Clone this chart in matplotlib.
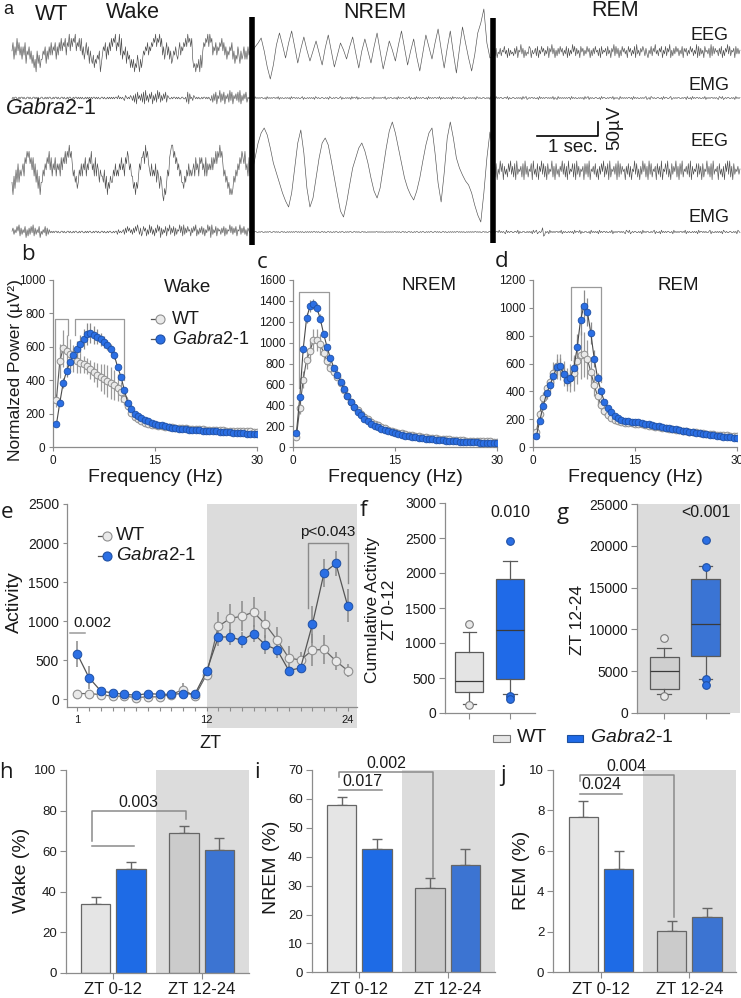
import numpy as np
import matplotlib
matplotlib.use("Agg")
import matplotlib.pyplot as plt
from matplotlib.patches import Rectangle
from matplotlib.transforms import blended_transform_factory

# ============================ DATA ============================
# --- panel a: example traces (levels 0-9) ---
wt_eeg_wake = ("5736485746" "3647254635" "2413052413" "3546253647" "4657364758" "5768476958"
               "6879576858" "4635746253" "2413243502" "4657364758" "6879576948" "3546253413"
               "1302142031" "3546574657" "6879687968" "4635746352" "3546435746" "5768697868"
               "3120213041" "5768796978" "4657465768" "5746354657" "3524364253" "4635364546")
wt_eeg_nrem = [0, 6, 10, 15, 2, -14, -26, -12, 8, 20, 8, -5, 10, 22, 6, -10, 4, 16, 3, -8,
               2, 12, 0, -12, 5, 18, 2, -14, -2, 10, 3, -6, 6, 16, 0, -15, 2, 14, 2, -10,
               6, 20, 2, -16, -2, 12, 3, -8, 8, 22, 5, -12, 2, 14, -4, -18, 0, 18, 6, -6,
               10, 24, 4, -15, 5, 22, 0, -20, 4, 26, 10, -5, -18, -2, 20, 30, 44, 10, -5, -2]
wt_eeg_rem = ("4637254736" "5846273645" "3748265947" "2635487264" "5738264857" "3648275947"
              "2637485736" "4827364958" "3746285736" "4857263748" "5637284657" "3846275938"
              "4726385746" "2857364829" "4637586374" "2648375946" "3758264837" "5926374857"
              "3648275736" "4857364928" "3746285647" "2938475637" "4826375948" "3657284746")
wt_emg_wake = ("4545544545" "5454455454" "4554545445" "5445454554" "4545545445" "5454454554"
               "4545545454" "5445454545" "4554545445" "5454454545" "4545546454" "5436545465"
               "3627184637" "2819362748" "1637294826" "3748265445" "4554545445" "5445281745"
               "3654545445" "4554545436" "2738164927" "3816472938" "1647382916" "3748254545")
wt_emg_nrem = ("4536454545" "5445364545" "4554546354" "5445454536" "4554545445" "6354454545"
               "4536545445" "5445453654" "4545544563" "5445454536" "4554635445" "5445454554"
               "3645454545" "5463454554" "4545364545" "5445456354" "4536454545" "5445364545"
               "4554546354" "5445454536" "4554545445" "6354454545" "4536545445" "5445453654")
wt_emg_rem = ("5436454554" "4554635445" "5445454536" "4563454554" "5445364545" "4554545463"
              "5436454545" "4545536454" "5445454536" "4563545445" "5445364554" "4545546354"
              "5436454545" "4554536454" "5445454563" "4536545445" "5445364554" "4563454545"
              "5445455364" "4536454554" "5445463545" "4554545436" "5463454554" "4545364545")
g2_eeg_wake = ("3142536354" "5647687867" "5746352413" "3546576857" "4657465647" "5768687978"
               "6453423546" "4657465768" "5647465354" "4352413243" "3546454657" "5647687564"
               "4231324657" "7869786546" "4546354243" "1021354789" "9786756453" "3243546454"
               "5647564767" "5647465657" "5768687978" "6453423121" "2435465768" "7685647454")
g2_eeg_nrem = [0, 15, 30, 40, 45, 38, 25, 10, 0, -10, -20, -28, -34, -20, 5, 30, 43, 20, -15, -34,
               -25, -5, 15, 30, 35, 28, 12, -5, -22, -38, -44, -30, -12, 5, 15, 25, 30, 22, 10, -5,
               -18, -25, -15, 5, 25, 42, 51, 40, 25, 10, -5, -15, -22, -27, -18, -5, 12, 28, 40, 45,
               20, -10, -29, 0, 35, 51, 35, 15, 5, -2, -8, -12, -20, -32, -42, -49, -20, 15, 41, 20]
g2_eeg_rem = ("4738264958" "2746385947" "3829465738" "2947365829" "4638275948" "3728465937"
              "2846375948" "3729465838" "2947365728" "4839265748" "3627485937" "4829365748"
              "2938475627" "4837265948" "3627495837" "2948365728" "4739265849" "3628475937"
              "2849365748" "3927465838" "4728365947" "3829465728" "4637285949" "3728465746")
g2_emg_wake = ("5736485927" "3648162738" "4927364815" "3648273645" "4545545445" "5454455454"
               "4545544545" "5445454554" "4545545445" "5454454554" "4545536454" "5637485746"
               "3748596372" "4857263948" "3627495817" "3648275937" "4827365948" "2937485627"
               "4859263748" "3726495819" "3648275637" "4827365948" "3748265937" "4836275445")
g2_emg_nrem = ("4545544545" "5445454554" "4554545445" "5454454545" "4545545454" "5445454545"
               "4554545445" "5454455454" "4545544545" "5445454554" "4554545445" "5454454545"
               "4545545454" "5445454545" "4554545445" "5454455454" "4545544545" "5445454554"
               "4554545445" "5454454545" "4545545454" "5445454545" "4554545445" "5454455454")
g2_emg_rem = ("4545546454" "5436454554" "4554635445" "5445454536" "4563454581" "2545364545"
              "4554546354" "5445454536" "4554635445" "5445364545" "4536454554" "5445463545"
              "4554545436" "5463454554" "4545364545" "5445456354" "4536454545" "5445364545"
              "4554546354" "5445454536" "4554545445" "6354454545" "4536545445" "5445453654")

# --- panels b-d: power spectra ---
freq = [0.5, 1.0, 1.5, 2.0, 2.5, 3.0, 3.5, 4.0, 4.5, 5.0, 5.5, 6.0, 6.5, 7.0, 7.5, 8.0, 8.5, 9.0, 9.5, 10.0,
        10.5, 11.0, 11.5, 12.0, 12.5, 13.0, 13.5, 14.0, 14.5, 15.0, 15.5, 16.0, 16.5, 17.0, 17.5, 18.0, 18.5,
        19.0, 19.5, 20.0, 20.5, 21.0, 21.5, 22.0, 22.5, 23.0, 23.5, 24.0, 24.5, 25.0, 25.5, 26.0, 26.5, 27.0,
        27.5, 28.0, 28.5, 29.0, 29.5, 30.0]
wake_wt = [280, 515, 590, 572, 555, 530, 515, 505, 495, 485, 465, 450, 432, 418, 405, 395, 385, 372, 355, 330,
           290, 245, 205, 180, 165, 153, 145, 139, 134, 130, 127, 124, 122, 120, 118, 116, 114, 112, 111, 109,
           108, 107, 106, 105, 104, 103, 102, 101, 100, 99, 98, 97, 96, 95, 95, 94, 93, 93, 92, 92]
wake_wt_err = [40, 100, 110, 100, 90, 80, 70, 60, 50, 50, 55, 60, 70, 80, 90, 95, 95, 90, 80, 60,
               40, 25, 15, 12, 10, 8, 7, 6, 6, 5, 4, 4, 4, 4, 4, 4, 4, 4, 4, 4,
               4, 4, 4, 4, 4, 4, 4, 4, 4, 4, 4, 4, 4, 4, 4, 4, 4, 4, 4, 4]
wake_g2 = [135, 265, 385, 455, 510, 550, 585, 618, 645, 675, 680, 672, 660, 645, 628, 608, 585, 550, 480, 420,
           340, 265, 225, 200, 184, 172, 162, 154, 146, 140, 134, 129, 124, 120, 116, 113, 110, 108, 106, 104,
           102, 101, 99, 98, 96, 95, 94, 93, 92, 91, 89, 88, 86, 85, 83, 81, 80, 78, 77, 76]
wake_g2_err = [10, 20, 30, 35, 40, 45, 50, 55, 60, 65, 60, 55, 45, 40, 35, 30, 30, 25, 20, 15,
               12, 10, 8, 7, 6, 5, 5, 5, 5, 5, 4, 4, 4, 4, 4, 4, 4, 4, 4, 4,
               4, 4, 4, 4, 4, 4, 4, 4, 4, 4, 4, 4, 4, 4, 4, 4, 4, 4, 4, 4]
nrem_wt = [100, 375, 645, 835, 920, 1025, 1025, 985, 905, 825, 760, 720, 670, 610, 545, 485, 430, 385, 350, 318,
           290, 265, 243, 224, 207, 192, 178, 166, 155, 146, 138, 130, 123, 117, 111, 106, 101, 97, 93, 89,
           86, 83, 80, 77, 75, 72, 70, 68, 66, 64, 62, 61, 59, 58, 56, 55, 54, 53, 52, 51]
nrem_wt_err = [20, 60, 80, 90, 100, 110, 110, 100, 80, 60, 40, 30, 25, 20, 15, 12, 10, 10, 8, 8,
               7, 7, 6, 6, 6, 5, 5, 5, 5, 5, 5, 4, 4, 4, 4, 4, 4, 4, 4, 4,
               3, 3, 3, 3, 3, 3, 3, 3, 3, 3, 3, 3, 3, 3, 3, 3, 3, 3, 3, 3]
nrem_g2 = [135, 480, 940, 1235, 1350, 1370, 1335, 1230, 1085, 960, 850, 760, 690, 625, 555, 490, 430, 380, 340, 305,
           272, 245, 222, 203, 187, 173, 161, 150, 140, 132, 124, 117, 110, 104, 98, 93, 88, 84, 80, 76,
           72, 69, 66, 63, 60, 58, 56, 54, 52, 50, 48, 47, 45, 44, 43, 42, 41, 40, 39, 38]
nrem_g2_err = [10, 30, 40, 50, 55, 50, 45, 40, 30, 25, 20, 15, 12, 10, 8, 8, 6, 6, 5, 5,
               4, 4, 4, 4, 4, 4, 4, 4, 4, 4, 3, 3, 3, 3, 3, 3, 3, 3, 3, 3,
               3, 3, 3, 3, 3, 3, 3, 3, 3, 3, 3, 3, 3, 3, 3, 3, 3, 3, 3, 3]
rem_wt = [110, 240, 355, 425, 470, 530, 580, 575, 525, 485, 495, 530, 615, 660, 665, 630, 540, 445, 365, 305,
          262, 232, 210, 195, 185, 178, 174, 172, 170, 168, 165, 162, 158, 154, 150, 146, 142, 138, 134, 130,
          127, 124, 120, 117, 114, 111, 108, 105, 102, 99, 96, 94, 91, 89, 87, 85, 83, 81, 80, 79]
rem_wt_err = [20, 30, 40, 50, 60, 80, 90, 90, 90, 80, 100, 130, 160, 170, 160, 140, 110, 80, 60, 40,
              30, 20, 15, 12, 10, 10, 8, 8, 8, 8, 5, 5, 5, 5, 5, 5, 5, 5, 5, 5,
              5, 5, 5, 5, 5, 5, 5, 5, 5, 5, 5, 5, 5, 5, 5, 5, 5, 5, 5, 5]
rem_g2 = [80, 190, 295, 385, 445, 510, 575, 580, 525, 485, 495, 570, 715, 915, 1015, 970, 820, 635, 495, 400,
          325, 280, 248, 223, 206, 195, 188, 185, 183, 182, 178, 173, 168, 163, 158, 152, 148, 143, 139, 135,
          131, 127, 122, 118, 114, 110, 106, 102, 98, 95, 91, 88, 84, 81, 78, 75, 72, 70, 67, 65]
rem_g2_err = [10, 20, 30, 40, 50, 60, 60, 60, 50, 50, 60, 80, 100, 110, 115, 100, 80, 60, 40, 30,
              20, 15, 12, 10, 8, 8, 6, 6, 6, 6, 5, 5, 5, 5, 5, 5, 5, 5, 5, 5,
              5, 5, 5, 5, 5, 5, 5, 5, 5, 5, 5, 5, 5, 5, 5, 5, 5, 5, 5, 5]
# significance brackets (freq left, freq right, top, left-leg end, right-leg end)
wake_brackets = [(0.3, 2.2, 766, 269, 671), (3.2, 10.4, 766, 671, 401)]
nrem_brackets = [(0.88, 5.3, 1485, 565, 1025)]
rem_brackets = [(5.6, 10.0, 1149, 626, 470)]

# --- panel e: hourly activity ---
zt = [1, 2, 3, 4, 5, 6, 7, 8, 9, 10, 11, 12, 13, 14, 15, 16, 17, 18, 19, 20, 21, 22, 23, 24]
act_wt = [72, 72, 59, 38, 38, 21, 30, 30, 59, 123, 38, 316, 933, 1034, 1063, 1114, 958, 759, 527, 502,
          629, 637, 490, 367]
act_wt_err = [20, 20, 15, 15, 15, 15, 15, 15, 20, 80, 20, 60, 190, 190, 195, 192, 170, 160, 150, 100,
              210, 180, 110, 80]
act_g2 = [578, 275, 105, 80, 63, 51, 72, 63, 63, 72, 63, 358, 797, 797, 755, 839, 696, 633, 367, 401,
          958, 1620, 1738, 1199]
act_g2_err = [165, 150, 30, 20, 15, 15, 15, 15, 15, 15, 15, 60, 115, 100, 100, 110, 120, 100, 60, 60,
              235, 180, 160, 213]

# --- panels f, g: cumulative activity box plots [whisker lo, Q1, median, Q3, whisker hi] ---
f_wt_box = [133, 300, 451, 866, 1151]
f_wt_out = [109, 1276]
f_g2_box = [271, 486, 1180, 1919, 2176]
f_g2_out = [247, 204, 2461]
g_wt_box = [2280, 2878, 5000, 6679, 7760]
g_wt_out = [2040, 8960]
g_g2_box = [4080, 6830, 10640, 16030, 17630]
g_g2_out = [4080, 3360, 17500, 20740]

# --- panels h-j: % time in state  [WT 0-12, Gabra 0-12, WT 12-24, Gabra 12-24] ---
periods = ["ZT 0-12", "ZT 12-24"]
wake_pct = [34.0, 51.0, 68.7, 60.3]
wake_pct_err = [3.3, 3.4, 3.5, 6.0]
nrem_pct = [58.0, 42.8, 29.3, 37.0]
nrem_pct_err = [2.6, 3.4, 3.5, 5.7]
rem_pct = [7.70, 5.10, 2.06, 2.73]
rem_pct_err = [0.78, 0.88, 0.50, 0.43]

# ============================ STYLE ============================
plt.rcParams['font.family'] = ['Liberation Sans', 'DejaVu Sans']
plt.rcParams['mathtext.fontset'] = 'custom'
plt.rcParams['mathtext.rm'] = 'Liberation Sans'
plt.rcParams['mathtext.it'] = 'Liberation Sans:italic'
plt.rcParams['mathtext.bf'] = 'Liberation Sans:bold'

W, H = 741, 998
fig = plt.figure(figsize=(W / 100, H / 100), dpi=100)

SPINE = '#8c8c8c'
TXT = '#1a1a1a'
SHADE = '#dcdcdc'
WT_FACE, WT_EDGE = '#e9e9e9', '#8f8f8f'
G2_FACE, G2_EDGE = '#2b6fe4', '#1f50a5'
GABRA = r'$\mathit{Gabra2}$-1'
LETTER = dict(family=['Open Sans', 'DejaVu Sans'])


def px_axes(x0, y0, x1, y1, zorder=1):
    ax = fig.add_axes([x0 / W, 1 - y1 / H, (x1 - x0) / W, (y1 - y0) / H], zorder=zorder)
    ax.patch.set_alpha(0)
    return ax


def T(x, y, s, size, ha='center', va='center', **kw):
    return fig.text(x / W, 1 - y / H, s, fontsize=size, ha=ha, va=va, color=kw.pop('color', TXT), **kw)


def style(ax, lsize, ticklen=3.0):
    for s in ('top', 'right'):
        ax.spines[s].set_visible(False)
    for s in ('left', 'bottom'):
        ax.spines[s].set_color(SPINE)
        ax.spines[s].set_linewidth(0.9)
    ax.tick_params(direction='out', length=ticklen, width=0.8, color=SPINE,
                   labelsize=lsize, labelcolor=TXT, pad=2.5)


# ============================ PANEL a ============================
ov = px_axes(0, 0, W, H, zorder=20)
ov.set_xlim(0, W)
ov.set_ylim(H, 0)
ov.axis('off')


def lv(s, gain):
    return (np.array([int(c) for c in s]) - 4.5) * gain


segs = [(12, 252), (252, 493), (493, 740)]
rows = [
    (53, [lv(wt_eeg_wake, 4.2), np.array(wt_eeg_nrem, float), lv(wt_eeg_rem, 1.9)]),
    (98, [lv(wt_emg_wake, 1.7), lv(wt_emg_nrem, 0.9), lv(wt_emg_rem, 1.0)]),
    (173, [lv(g2_eeg_wake, 6.2), np.array(g2_eeg_nrem, float), lv(g2_eeg_rem, 2.7)]),
    (232, [lv(g2_emg_wake, 1.6), lv(g2_emg_nrem, 0.8), lv(g2_emg_rem, 1.2)]),
]
for base, vals in rows:
    for (x0, x1), v in zip(segs, vals):
        xs = np.linspace(x0, x1, len(v))
        ov.plot(xs, base - v, color='#505050', lw=0.45)
for xb, y0, y1 in [(252, 17, 245), (493, 18, 243)]:
    ov.plot([xb, xb], [y0, y1], color='black', lw=4.0, solid_capstyle='butt')
# scale bar: 1 s horizontal, 50 uV vertical
ov.plot([537, 598, 598], [136, 136, 122], color='black', lw=1.2)
T(573, 147, '1 sec.', 13.5)
T(615, 128, '50µV', 13.5, rotation=90)

T(8, 9, 'a', 13)
T(52, 14, 'WT', 15.5)
T(133, 12, 'Wake', 15.5)
T(375, 12, 'NREM', 15.5)
T(615, 11, 'REM', 15.5)
T(51, 108, GABRA, 15.5)
for yy, lab in [(35, 'EEG'), (85, 'EMG'), (142, 'EEG'), (218, 'EMG')]:
    T(729, yy, lab, 13, ha='right')

# ============================ PANELS b-d ============================


def spectrum(box, wt, wte, g2, g2e, ymax, ystep, brackets):
    ax = px_axes(*box)
    ax.errorbar(freq, wt, yerr=wte, fmt='none', ecolor='#9a9a9a', elinewidth=0.9, zorder=2)
    ax.errorbar(freq, g2, yerr=g2e, fmt='none', ecolor='#8a8a8a', elinewidth=0.9, zorder=2)
    ax.plot(freq, wt, color='#5a5a5a', lw=0.8, marker='o', ms=4.8, mfc=WT_FACE, mec=WT_EDGE,
            mew=0.7, zorder=3)
    ax.plot(freq, g2, color='#4a4a4a', lw=0.8, marker='o', ms=4.8, mfc=G2_FACE, mec=G2_EDGE,
            mew=0.6, zorder=4)
    for xl, xr, yt, yl, yr in brackets:
        ax.plot([xl, xl, xr, xr], [yl, yt, yt, yr], color='#9a9a9a', lw=0.9, zorder=1, clip_on=False)
    ax.set_xlim(0, 30)
    ax.set_ylim(0, ymax)
    ax.set_xticks([0, 15, 30])
    ax.set_yticks(np.arange(0, ymax + 1, ystep))
    style(ax, 8.5)
    return ax


spectrum((53, 280, 257, 447), wake_wt, wake_wt_err, wake_g2, wake_g2_err, 1000, 200, wake_brackets)
spectrum((293, 280, 497, 447), nrem_wt, nrem_wt_err, nrem_g2, nrem_g2_err, 1600, 200, nrem_brackets)
spectrum((533, 280, 737, 447), rem_wt, rem_wt_err, rem_g2, rem_g2_err, 1200, 200, rem_brackets)

T(188, 287, 'Wake', 13.5)
T(429, 286, 'NREM', 13.5)
T(678, 286, 'REM', 13.5)
for xc in (155, 395, 635):
    T(xc, 477, 'Frequency (Hz)', 14)
T(16, 370, 'Normalzed Power (µV²)', 12.5, rotation=90)
T(28, 255, 'b', 16, **LETTER)
T(262, 263, 'c', 16, **LETTER)
T(502, 262, 'd', 16, **LETTER)

# legend in b
for yy, fc, ec, lab in [(319, WT_FACE, WT_EDGE, 'WT'), (339, G2_FACE, G2_EDGE, GABRA)]:
    ov.plot([151, 160], [yy, yy], color='#555555', lw=0.9)
    ov.plot([160], [yy], marker='o', ms=6.5, mfc=fc, mec=ec, mew=0.8)
    T(172, yy, lab, 13, ha='left')

# ============================ PANEL e ============================
axe = px_axes(66.7, 504, 357, 707)
axe.set_xlim(0.1, 24.8)
axe.set_ylim(-100, 2500)
tr = blended_transform_factory(axe.transData, axe.transAxes)
axe.add_patch(Rectangle((12, -0.104), axe.get_xlim()[1] - 12, 1.104, transform=tr,
                        facecolor=SHADE, edgecolor='none', clip_on=False, zorder=0))
axe.errorbar(zt, act_wt, yerr=act_wt_err, fmt='none', ecolor='#8a8a8a', elinewidth=1.1, zorder=2)
axe.errorbar(zt, act_g2, yerr=act_g2_err, fmt='none', ecolor='#8a8a8a', elinewidth=1.1, zorder=2)
axe.plot(zt, act_wt, color='#666666', lw=0.9, marker='o', ms=6.2, mfc=WT_FACE, mec=WT_EDGE, mew=0.8, zorder=3)
axe.plot(zt, act_g2, color='#555555', lw=0.9, marker='o', ms=6.2, mfc=G2_FACE, mec=G2_EDGE, mew=0.7, zorder=4)
axe.set_xticks(zt)
axe.set_xticklabels([str(z) if z in (1, 12, 24) else '' for z in zt])
axe.set_yticks([0, 500, 1000, 1500, 2000, 2500])
style(axe, 10)
axe.tick_params(axis='x', labelsize=8)
# annotations
axe.plot([0.38, 1.65], [850, 850], color='#9a9a9a', lw=1.1, clip_on=False)
axe.text(2.25, 978, '0.002', ha='center', va='center', fontsize=11, color=TXT)
axe.plot([20.64, 20.64, 24.04, 24.04], [1167, 2004, 2004, 1487], color='#8a8a8a', lw=1.0, clip_on=False)
axe.text(22.3, 2145, 'p<0.043', ha='center', va='center', fontsize=11, color=TXT)
T(14, 602, 'Activity', 14, rotation=90)
T(210, 743, 'ZT', 13)
T(7, 512, 'e', 16, **LETTER)
for yy, fc, ec, lab in [(536, WT_FACE, WT_EDGE, 'WT'), (556, G2_FACE, G2_EDGE, GABRA)]:
    ov.plot([98, 107], [yy, yy], color='#555555', lw=0.9)
    ov.plot([107], [yy], marker='o', ms=6.5, mfc=fc, mec=ec, mew=0.8)
    T(116, yy, lab, 13.5, ha='left')

# ============================ PANELS f, g ============================


def boxpanel(box, wtb, wto, g2b, g2o, xlim, ymax, ystep, wt_col, g2_col, shaded, spine_right):
    ax = px_axes(*box)
    if shaded:
        ax.patch.set_alpha(1)
        ax.set_facecolor(SHADE)
    stats = []
    for b, o in [(wtb, wto), (g2b, g2o)]:
        stats.append(dict(whislo=b[0], q1=b[1], med=b[2], q3=b[3], whishi=b[4], fliers=o))
    parts = ax.bxp(stats, positions=[1, 2], widths=0.69, patch_artist=True, capwidths=0.33,
                   boxprops=dict(edgecolor='#5a5a5a', linewidth=0.9),
                   medianprops=dict(color='#3a3a3a', linewidth=0.9),
                   whiskerprops=dict(color='#5a5a5a', linewidth=0.9),
                   capprops=dict(color='#5a5a5a', linewidth=0.9))
    for patch, col in zip(parts['boxes'], [wt_col, g2_col]):
        patch.set_facecolor(col)
    for fl, (fc, ec) in zip(parts['fliers'], [(WT_FACE, '#7a7a7a'), (G2_FACE, G2_EDGE)]):
        fl.set_marker('o')
        fl.set_markersize(5.5)
        fl.set_markerfacecolor(fc)
        fl.set_markeredgecolor(ec)
        fl.set_markeredgewidth(0.8)
    ax.set_xlim(*xlim)
    ax.set_ylim(0, ymax)
    ax.set_yticks(np.arange(0, ymax + 1, ystep))
    ax.set_xticks([1, 2])
    ax.set_xticklabels(['', ''])
    style(ax, 10, ticklen=4)
    ax.spines['bottom'].set_bounds(xlim[0], spine_right)
    return ax


axf = boxpanel((445, 503, 535, 713), f_wt_box, f_wt_out, f_g2_box, f_g2_out, (0.40, 2.61), 3000, 500,
               '#e4e4e4', '#1f6ae8', False, 2.61)
axf.text(2, 2860, '0.010', ha='center', va='center', fontsize=11.5, color=TXT)
axg = boxpanel((637, 504, 740, 713), g_wt_box, g_wt_out, g_g2_box, g_g2_out, (0.34, 2.83), 25000, 5000,
               '#cfcfcf', '#3a74d4', True, 2.56)
axg.text(2, 23980, '<0.001', ha='center', va='center', fontsize=11.5, color=TXT)
T(373, 610, 'Cumulative Activity', 12.5, rotation=90)
T(390, 610, 'ZT 0-12', 12.5, rotation=90)
T(577, 620, 'ZT 12-24', 12.5, rotation=90)
T(363, 510, 'f', 16, **LETTER)
T(563, 513, 'g', 16, **LETTER)
# legend under f/g
ov.add_patch(Rectangle((493, 735), 17, 7, facecolor='#e6e6e6', edgecolor='#777777', lw=0.8))
T(517, 738, 'WT', 14, ha='left')
ov.add_patch(Rectangle((567, 735), 16, 7, facecolor='#1f6ae8', edgecolor='#1d4f9e', lw=0.8))
T(590, 738, GABRA, 14, ha='left')

# ============================ PANELS h-j ============================
group = np.array([1, 1, 2, 2])
offset = np.array([-0.2, 0.2, -0.2, 0.2])
bar_cols = ['#e5e5e5', '#1e6be6', '#cbcbcb', '#3c74d2']


def barpanel(box, vals, errs, ymax, ystep):
    ax = px_axes(*box)
    xlim = (0.46, 2.53)
    ax.axvspan(1.48, xlim[1], color=SHADE, lw=0, zorder=0)
    xs = group + offset
    ax.errorbar(xs, vals, yerr=[[0, 0, 0, 0], errs], fmt='none', ecolor='#666666', elinewidth=1.0,
                capsize=3.5, capthick=1.0, zorder=1)
    ax.bar(xs, vals, width=0.33, color=bar_cols, edgecolor='#666666', linewidth=0.9, zorder=2)
    ax.set_xlim(*xlim)
    ax.set_ylim(0, ymax)
    ax.set_yticks(np.arange(0, ymax + 0.001, ystep))
    ax.set_xticks([1, 2])
    ax.set_xticklabels(periods)
    style(ax, 9.5, ticklen=4)
    ax.tick_params(axis='x', labelsize=12, pad=3)
    return ax


BR = dict(color='#8a8a8a', lw=1.1, clip_on=False)
axh = barpanel((65.7, 770, 248.5, 972.7), wake_pct, wake_pct_err, 100, 20)
axh.plot([0.762, 0.762, 1.819, 1.819], [65.2, 79.9, 79.9, 75.9], **BR)
axh.plot([0.754, 1.238], [62.6, 62.6], **BR)
axh.text(1.283, 84, '0.003', ha='center', va='center', fontsize=11.5, color=TXT)

axi = barpanel((311.7, 770, 494.5, 972.3), nrem_pct, nrem_pct_err, 70, 10)
axi.plot([0.774, 1.253], [63.1, 63.1], **BR)
axi.text(1.038, 66, '0.017', ha='center', va='center', fontsize=11.5, color=TXT)
axi.plot([0.774, 0.774, 1.837, 1.837], [67.7, 69.4, 69.4, 33.1], **BR)
axi.text(1.31, 72.3, '0.002', ha='center', va='center', fontsize=11.5, color=TXT)

axj = barpanel((553.3, 770, 736.1, 972.3), rem_pct, rem_pct_err, 10, 2)
axj.plot([0.761, 1.239], [8.8, 8.8], **BR)
axj.text(1.0, 9.26, '0.024', ha='center', va='center', fontsize=11.5, color=TXT)
axj.plot([0.761, 0.761, 1.825, 1.825], [9.46, 9.74, 9.74, 2.75], **BR)
axj.text(1.29, 10.15, '0.004', ha='center', va='center', fontsize=11.5, color=TXT)

T(22, 870, 'Wake (%)', 14, rotation=90)
T(271.7, 867, 'NREM (%)', 14, rotation=90)
T(521.7, 870, 'REM (%)', 14, rotation=90)
T(6, 773, 'h', 16, **LETTER)
T(257, 772, 'i', 16, **LETTER)
T(503, 775, 'j', 16, **LETTER)

fig.savefig('out.png', dpi=100)
